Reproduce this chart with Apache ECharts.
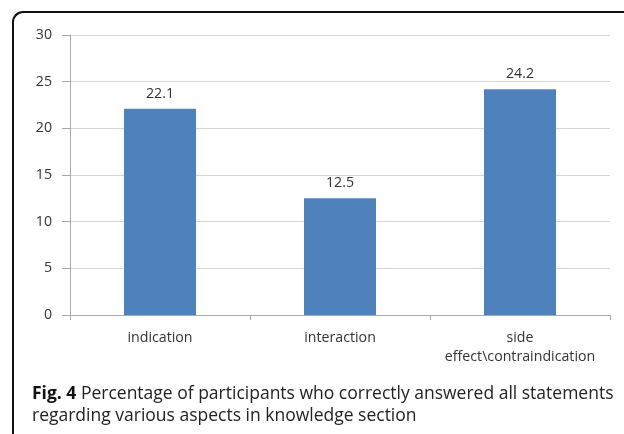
<!DOCTYPE html>
<html>
<head>
<meta charset="utf-8">
<script src="https://cdn.jsdelivr.net/npm/echarts@6/dist/echarts.min.js"></script>
<style>
html,body{margin:0;padding:0;background:#fff;}
#frame{position:absolute;left:12px;top:11px;width:640px;height:440px;border-top:2px solid #111;border-left:2px solid #111;border-top-left-radius:11px;}
#chart{position:absolute;left:0;top:0;width:624px;height:434px;}
</style>
</head>
<body>
<div id="frame"></div>
<div id="chart"></div>
<script>
const categories = ['indication', 'interaction', 'side\neffect\\contraindication'];
const values = [22.1, 12.5, 24.2];
const yTicks = [0, 5, 10, 15, 20, 25, 30];
const captionBold = 'Fig. 4';
const captionLine1 = ' Percentage of participants who correctly answered all statements';
const captionLine2 = 'regarding various aspects in knowledge section';

const chart = echarts.init(document.getElementById('chart'), null, {renderer: 'canvas'});
chart.setOption({
  animation: false,
  backgroundColor: 'transparent',
  title: {
    left: 27, top: 378,
    text: '{b|' + captionBold + '}{n|' + captionLine1 + '}\n{n|' + captionLine2 + '}',
    textStyle: {
      rich: {
        b: {fontFamily: 'Open Sans', fontWeight: 'bold', fontSize: 17.5, color: '#111', lineHeight: 22},
        n: {fontFamily: 'Open Sans', fontWeight: 'normal', fontSize: 17.5, color: '#222', lineHeight: 22}
      }
    }
  },
  grid: {left: 70, right: 14, top: 35, bottom: 119},
  xAxis: {
    type: 'category',
    data: categories,
    axisLine: {lineStyle: {color: '#a8a8a8', width: 1}},
    axisTick: {show: true, alignWithLabel: false, length: 5, lineStyle: {color: '#a8a8a8'}},
    axisLabel: {fontFamily: 'Open Sans', fontSize: 14.2, color: '#333', margin: 13, lineHeight: 19, interval: 0}
  },
  yAxis: {
    type: 'value',
    min: yTicks[0], max: yTicks[yTicks.length - 1], interval: yTicks[1] - yTicks[0],
    axisLine: {show: true, lineStyle: {color: '#a8a8a8', width: 1}},
    axisTick: {show: true, length: 8, lineStyle: {color: '#a8a8a8'}},
    splitLine: {lineStyle: {color: '#d4d4d4', width: 1}},
    axisLabel: {fontFamily: 'Open Sans', fontSize: 14.2, color: '#333', margin: 18}
  },
  series: [{
    type: 'bar',
    data: values,
    barWidth: '40%',
    itemStyle: {color: '#4f81bd'},
    label: {show: true, position: 'top', distance: 8, fontFamily: 'Open Sans', fontSize: 14.2, color: '#333'}
  }]
});
</script>
</body>
</html>
